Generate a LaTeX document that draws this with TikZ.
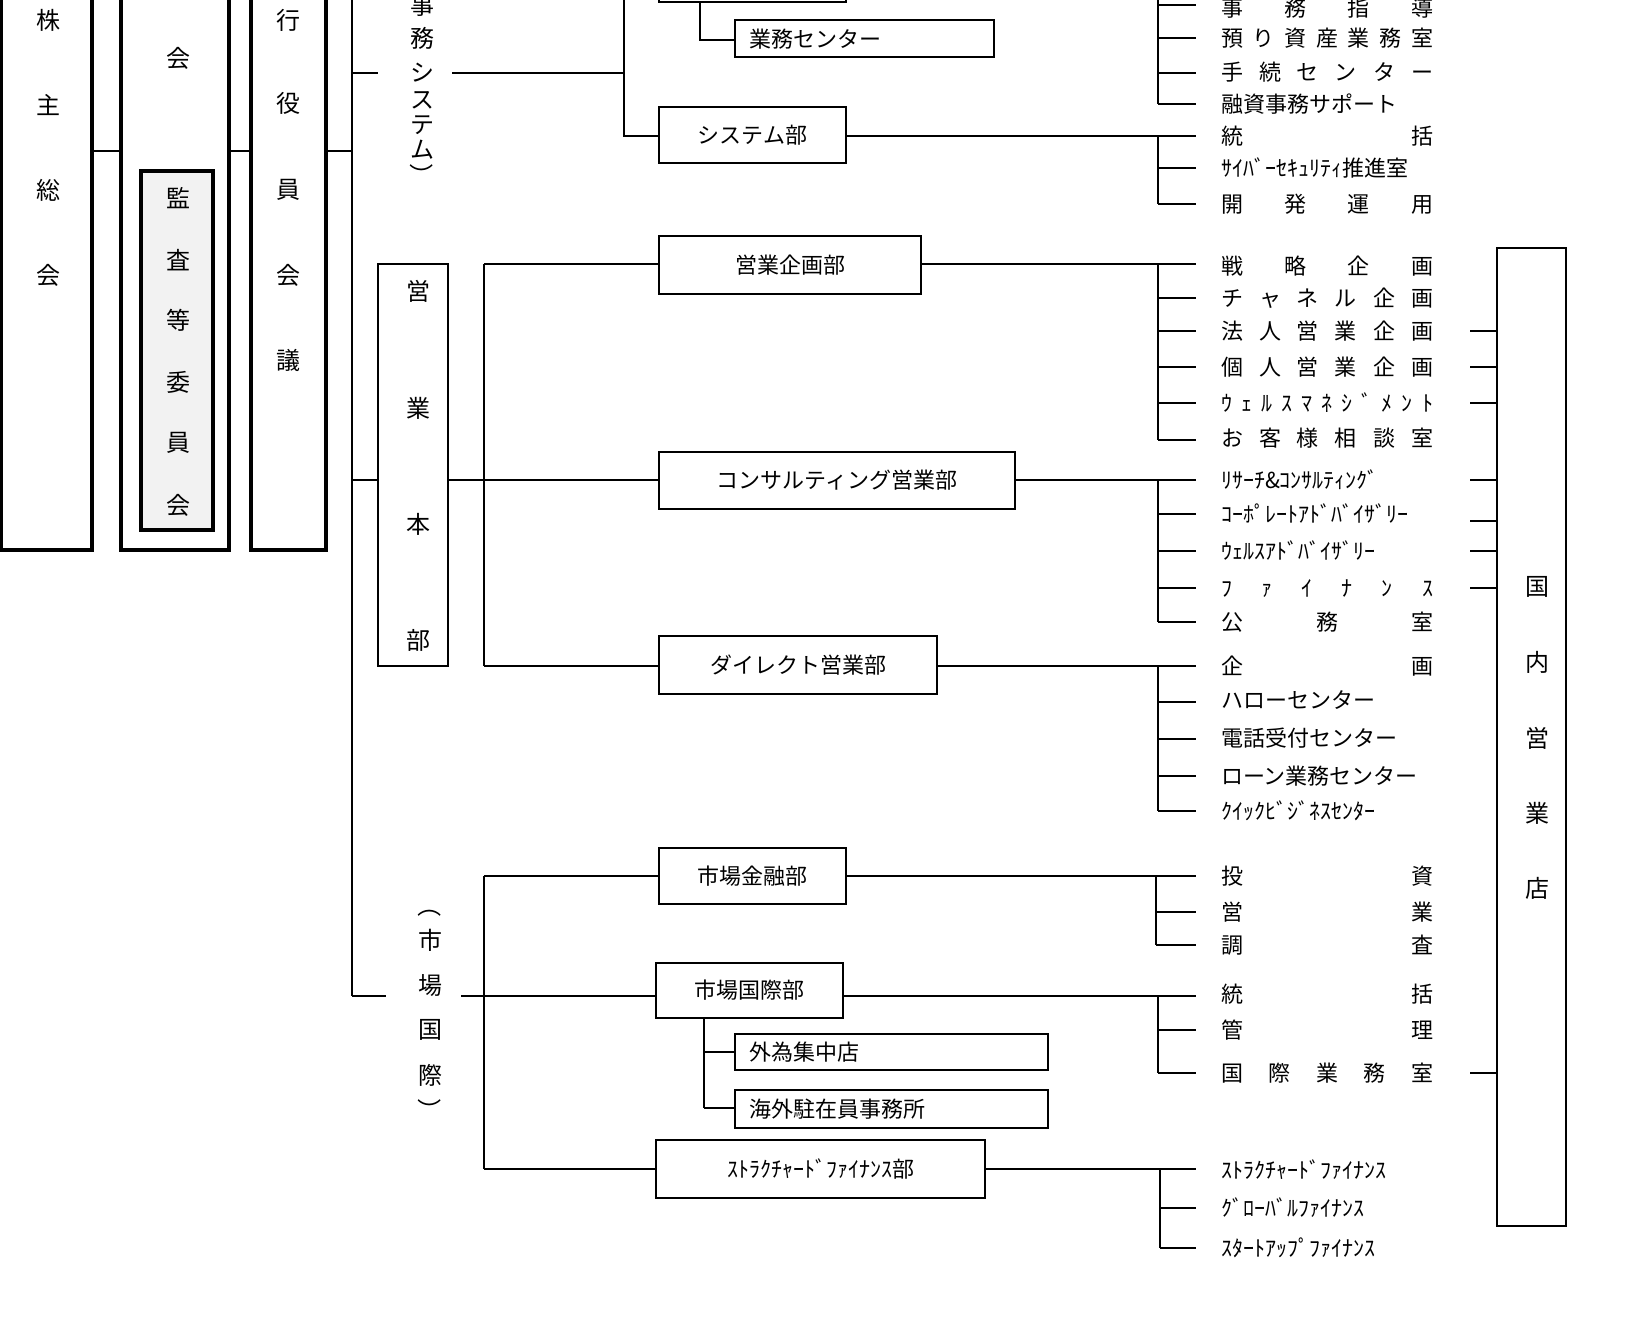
\documentclass[tikz,border=0pt]{standalone}
\usepackage{fontspec}
\setmainfont{Noto Sans CJK JP}
\begin{document}
\begin{tikzpicture}[x=0.5pt,y=-0.5pt,line width=1pt,
  thick box/.style={draw,line width=2pt},
  dept/.style={draw,line width=1pt,inner sep=0pt},
  lbl/.style={anchor=west,inner sep=0pt,font=\fontsize{11pt}{12pt}\selectfont},
  ch/.style={inner sep=0pt,font=\fontsize{12pt}{13pt}\selectfont}]
\useasboundingbox (0,0) rectangle (1640,1324);
\newcommand\spr[2]{\node[lbl] at (1220,#1) {\makebox[106pt][s]{#2}};}
\newcommand\lf[2]{\node[lbl] at (1220,#1) {#2};}
% left boxes
\draw[thick box] (1,-10) rectangle (92,550);
\draw[thick box] (121,-10) rectangle (229,550);
\draw[thick box,fill=black!5] (141,171) rectangle (213,530);
\draw[thick box] (251,-10) rectangle (326,550);
\foreach \c/\y in {株/20,主/105,総/190,会/275} \node[ch] at (48,\y) {\c};
\node[ch] at (178,58) {会};
\foreach \c/\y in {監/198,査/260,等/320,委/382,員/443,会/505} \node[ch] at (178,\y) {\c};
\foreach \c/\y in {行/20,役/103,員/190,会/275,議/360} \node[ch] at (288,\y) {\c};
\draw (92,151)--(121,151) (229,151)--(251,151) (326,151)--(352,151);
\draw (352,-10)--(352,996);
\draw (352,73)--(378,73) (352,480)--(378,480) (352,996)--(386,996);
% 事務システム
\foreach \c/\y in {事/5,務/38,シ/73,ス/100,テ/125,ム/150} \node[ch] at (422,\y) {\c};
\node[ch,rotate=-90] at (422,175) {）};
\draw (452,73)--(624,73) (624,-10)--(624,136)--(659,136);
\draw[dept] (659,-10) rectangle (846,2);
\draw (700,2)--(700,40)--(735,40);
\draw[dept] (735,20) rectangle (994,57);
\node[lbl] at (748,39) {業務センター};
\draw (1158,-10)--(1158,104);
\foreach \y in {5,38,73,104} \draw (1158,\y)--(1196,\y);
\spr{8}{事\hfill 務\hfill 指\hfill 導}
\spr{38}{預\hfill り\hfill 資\hfill 産\hfill 業\hfill 務\hfill 室}
\spr{72}{手\hfill 続\hfill セ\hfill ン\hfill タ\hfill ー}
\spr{104}{融資事務サポート}
\draw[dept] (659,107) rectangle node[font=\fontsize{11pt}{12pt}\selectfont]{システム部} (846,163);
\draw (846,136)--(1196,136) (1158,136)--(1158,204);
\foreach \y in {168,204} \draw (1158,\y)--(1196,\y);
\spr{136}{統\hfill 括}
\lf{168}{ｻｲﾊﾞｰｾｷｭﾘﾃｨ推進室}
\spr{204}{開\hfill 発\hfill 運\hfill 用}
% 営業本部
\draw[dept] (378,264) rectangle (448,666);
\foreach \c/\y in {営/291,業/408,本/524,部/640} \node[ch] at (418,\y) {\c};
\draw (448,480)--(484,480) (484,264)--(484,666);
\foreach \y in {264,480,666} \draw (484,\y)--(659,\y);
\draw[dept] (659,236) rectangle node[font=\fontsize{11pt}{12pt}\selectfont]{営業企画部} (921,294);
\draw (921,264)--(1196,264) (1158,264)--(1158,440);
\foreach \y in {298,331,367,403,440} \draw (1158,\y)--(1196,\y);
\spr{266}{戦\hfill 略\hfill 企\hfill 画}
\spr{298}{チ\hfill ャ\hfill ネ\hfill ル\hfill 企\hfill 画}
\spr{331}{法\hfill 人\hfill 営\hfill 業\hfill 企\hfill 画}
\spr{367}{個\hfill 人\hfill 営\hfill 業\hfill 企\hfill 画}
\spr{403}{ｳ\hfill ｪ\hfill ﾙ\hfill ｽ\hfill ﾏ\hfill ﾈ\hfill ｼ\hfill ﾞ\hfill ﾒ\hfill ﾝ\hfill ﾄ}
\spr{438}{お\hfill 客\hfill 様\hfill 相\hfill 談\hfill 室}
\draw[dept] (659,452) rectangle node[font=\fontsize{11pt}{12pt}\selectfont]{コンサルティング営業部} (1015,509);
\draw (1015,480)--(1196,480) (1158,480)--(1158,622);
\foreach \y in {514,551,588,622} \draw (1158,\y)--(1196,\y);
\lf{480}{ﾘｻｰﾁ\&ｺﾝｻﾙﾃｨﾝｸﾞ}
\lf{514}{ｺｰﾎﾟﾚｰﾄｱﾄﾞﾊﾞｲｻﾞﾘｰ}
\lf{551}{ｳｪﾙｽｱﾄﾞﾊﾞｲｻﾞﾘｰ}
\spr{588}{ﾌ\hfill ｧ\hfill ｲ\hfill ﾅ\hfill ﾝ\hfill ｽ}
\spr{622}{公\hfill 務\hfill 室}
\draw[dept] (659,636) rectangle node[font=\fontsize{11pt}{12pt}\selectfont]{ダイレクト営業部} (937,694);
\draw (937,666)--(1196,666) (1158,666)--(1158,811);
\foreach \y in {702,739,776,811} \draw (1158,\y)--(1196,\y);
\spr{666}{企\hfill 画}
\lf{700}{ ハローセンター}
\lf{738}{ 電話受付センター}
\lf{776}{ローン業務センター}
\lf{811}{ｸｲｯｸﾋﾞｼﾞﾈｽｾﾝﾀｰ}
% 国内営業店
\draw[dept] (1497,248) rectangle (1566,1226);
\foreach \c/\y in {国/587,内/662,営/738,業/813,店/888} \node[ch] at (1537,\y) {\c};
\foreach \y in {331,367,403,480,521,551,588,1073} \draw (1470,\y)--(1497,\y);
% 市場国際
\node[ch,rotate=-90] at (430,905) {（};
\foreach \c/\y in {市/940,場/986,国/1030,際/1075} \node[ch] at (430,\y) {\c};
\node[ch,rotate=-90] at (430,1110) {）};
\draw (461,996)--(655,996) (484,876)--(484,1169);
\draw (484,876)--(659,876) (484,1169)--(656,1169);
\draw[dept] (659,848) rectangle node[font=\fontsize{11pt}{12pt}\selectfont]{市場金融部} (846,904);
\draw (846,876)--(1196,876) (1156,876)--(1156,945);
\foreach \y in {912,945} \draw (1156,\y)--(1196,\y);
\spr{876}{投\hfill 資}
\spr{912}{営\hfill 業}
\spr{945}{調\hfill 査}
\draw[dept] (656,963) rectangle node[font=\fontsize{11pt}{12pt}\selectfont]{市場国際部} (843,1018);
\draw (843,996)--(1196,996) (1158,996)--(1158,1073);
\foreach \y in {1030,1073} \draw (1158,\y)--(1196,\y);
\spr{994}{統\hfill 括}
\spr{1030}{管\hfill 理}
\spr{1073}{国\hfill 際\hfill 業\hfill 務\hfill 室}
\draw (704,1018)--(704,1108);
\foreach \y in {1052,1108} \draw (704,\y)--(735,\y);
\draw[dept] (735,1034) rectangle (1048,1070);
\node[lbl] at (748,1052) {外為集中店};
\draw[dept] (735,1090) rectangle (1048,1128);
\node[lbl] at (748,1109) {海外駐在員事務所};
\draw[dept] (656,1140) rectangle node[font=\fontsize{11pt}{12pt}\selectfont]{ｽﾄﾗｸﾁｬｰﾄﾞﾌｧｲﾅﾝｽ部} (985,1198);
\draw (985,1169)--(1196,1169) (1160,1169)--(1160,1248);
\foreach \y in {1208,1248} \draw (1160,\y)--(1196,\y);
\lf{1170}{ｽﾄﾗｸﾁｬｰﾄﾞﾌｧｲﾅﾝｽ}
\lf{1208}{ｸﾞﾛｰﾊﾞﾙﾌｧｲﾅﾝｽ}
\lf{1248}{ｽﾀｰﾄｱｯﾌﾟﾌｧｲﾅﾝｽ}
\end{tikzpicture}
\end{document}
